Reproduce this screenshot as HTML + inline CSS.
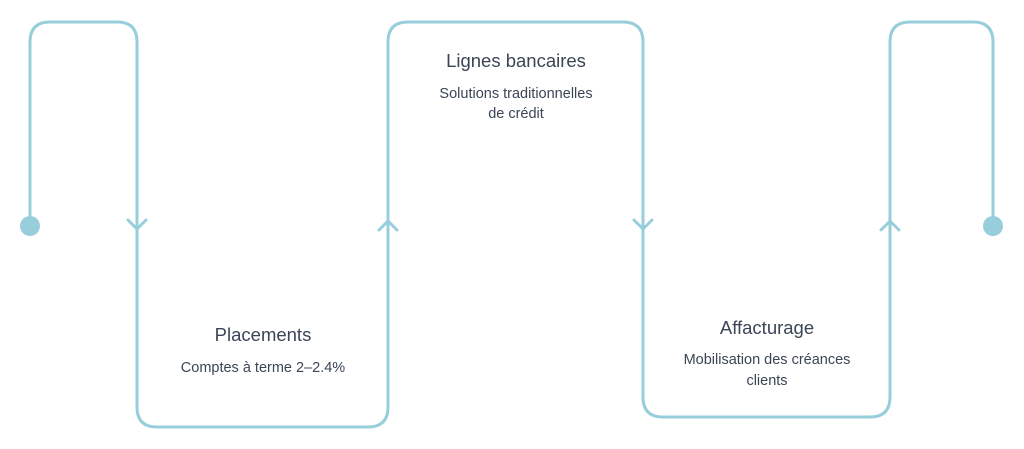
<!DOCTYPE html>
<html><head><meta charset="utf-8"><style>
body{margin:0;background:#fff;width:1024px;height:449px;overflow:hidden}
svg{display:block}
text{font-family:"Liberation Sans",sans-serif;fill:#3a4556;text-anchor:middle}
.t{font-size:18.5px}.s{font-size:14.5px}
</style></head><body>
<svg width="1024" height="449" viewBox="0 0 1024 449">
<g fill="none" stroke="#98cedb" stroke-width="3" stroke-linecap="round" stroke-linejoin="round">
<path d="M30 226 V42 Q30 22 50 22 H117 Q137 22 137 42 V407 Q137 427 157 427 H368 Q388 427 388 407 V42 Q388 22 408 22 H623 Q643 22 643 42 V397 Q643 417 663 417 H870 Q890 417 890 397 V42 Q890 22 910 22 H973 Q993 22 993 42 V226"/>
<path d="M128 220 L137 229 L146 220"/>
<path d="M379 230 L388 221 L397 230"/>
<path d="M634 220 L643 229 L652 220"/>
<path d="M881 230 L890 221 L899 230"/>
</g>
<circle cx="30" cy="226" r="10" fill="#98cedb"/>
<circle cx="993" cy="226" r="10" fill="#98cedb"/>
<text class="t" x="263" y="341">Placements</text>
<text class="s" x="263" y="372">Comptes à terme 2–2.4%</text>
<text class="t" x="516" y="67">Lignes bancaires</text>
<text class="s" x="516" y="98">Solutions traditionnelles</text>
<text class="s" x="516" y="118">de crédit</text>
<text class="t" x="767" y="334">Affacturage</text>
<text class="s" x="767" y="364">Mobilisation des créances</text>
<text class="s" x="767" y="385">clients</text>
</svg>
</body></html>
